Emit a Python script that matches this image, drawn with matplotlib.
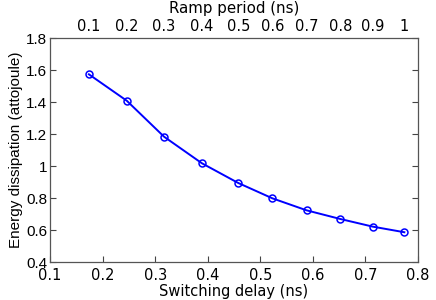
import matplotlib
matplotlib.use("Agg")
import matplotlib.pyplot as plt

switching_delay = [0.174, 0.246, 0.317, 0.389, 0.458, 0.523, 0.588, 0.652, 0.714, 0.774]
energy = [1.573, 1.408, 1.183, 1.017, 0.894, 0.798, 0.723, 0.669, 0.621, 0.586]
ramp_labels = ["0.1", "0.2", "0.3", "0.4", "0.5", "0.6", "0.7", "0.8", "0.9", "1"]
x_ticks = [0.1, 0.2, 0.3, 0.4, 0.5, 0.6, 0.7, 0.8]
y_ticks = [0.4, 0.6, 0.8, 1.0, 1.2, 1.4, 1.6, 1.8]
y_ticklabels = ["0.4", "0.6", "0.8", "1", "1.2", "1.4", "1.6", "1.8"]

fig = plt.figure(figsize=(4.36, 3.00), dpi=100)
ax = fig.add_axes([50/436, 1 - 262/300, 368/436, 224/300])
ax.plot(switching_delay, energy, color="#0000ff", lw=1.4, marker="o",
        markersize=5, markerfacecolor="none", markeredgecolor="#0000ff", markeredgewidth=1.1)
ax.set_xlim(0.1, 0.8)
ax.set_ylim(0.4, 1.8)
ax.set_xticks(x_ticks)
ax.set_xticklabels([f"{v:g}" for v in x_ticks])
ax.set_yticks(y_ticks)
ax.set_yticklabels(y_ticklabels)
ax.tick_params(direction="in", top=True, right=True, length=4, width=0.8,
               color="#444444", labelsize=10.5)
ax.tick_params(axis="x", pad=4)
ax.tick_params(axis="y", pad=2)
for lbl in ax.get_yticklabels():
    lbl.set_fontfamily("Liberation Sans")
    lbl.set_fontsize(11)
    lbl.set_verticalalignment("center_baseline")
for s in ax.spines.values():
    s.set_color("#555555")
    s.set_linewidth(0.9)
ax.set_xlabel("Switching delay (ns)", fontsize=10.5, labelpad=1)
ax.set_ylabel("Energy dissipation (attojoule)", family="Liberation Sans", fontsize=11, labelpad=2)

ax2 = ax.twiny()
ax2.set_xlim(ax.get_xlim())
ax2.set_xticks(switching_delay)
ax2.set_xticklabels(ramp_labels)
ax2.tick_params(length=0, labelsize=10.5, pad=3)
for s in ax2.spines.values():
    s.set_visible(False)
fig.text(234/436, 1 - 9/300, "Ramp period (ns)", fontsize=10.8, ha="center", va="center")

fig.savefig("out.png", dpi=100)
